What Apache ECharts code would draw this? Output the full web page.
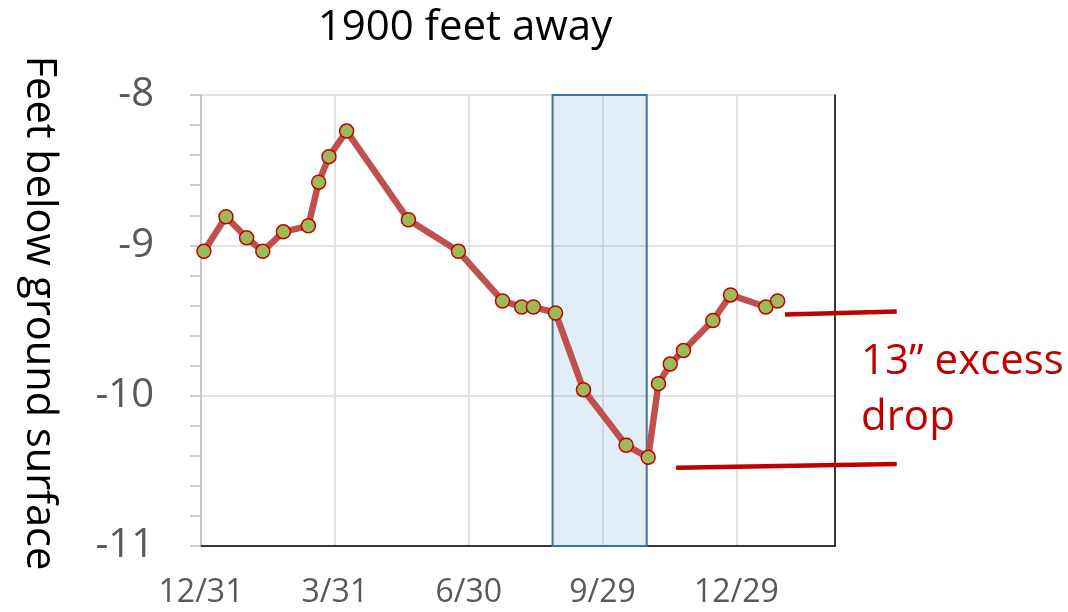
<!DOCTYPE html>
<html>
<head>
<meta charset="utf-8">
<script src="https://cdn.jsdelivr.net/npm/echarts@6/dist/echarts.min.js"></script>
<style>
html,body{margin:0;padding:0;background:#fff;}
#chart{width:1068px;height:612px;}
</style>
</head>
<body>
<div id="chart"></div>
<script>
// Days since 12/31 (x) and depth in feet (y)
var dayOffsets = [2, 17, 31, 42, 56, 73, 80, 87, 99, 141, 175, 205, 218, 226, 241, 260, 289, 304, 311, 319, 328, 348, 360, 384, 392];
var depths = [-9.04, -8.81, -8.95, -9.04, -8.91, -8.87, -8.58, -8.41, -8.24, -8.83, -9.04, -9.37, -9.41, -9.41, -9.45, -9.96, -10.33, -10.41, -9.92, -9.79, -9.70, -9.50, -9.33, -9.41, -9.37];
var xTickLabels = ['12/31', '3/31', '6/30', '9/29', '12/29'];
var xTickStep = 91;
var yTicks = [-11, -10, -9, -8];
var shadedPeriod = [239, 303];
var excessTop = [[397, -9.46], [473, -9.44]];
var excessBottom = [[323, -10.48], [473, -10.455]];
var titleText = '1900 feet away';
var yAxisTitle = 'Feet below ground surface';
var noteLines = ['13\u201d excess', 'drop'];

var seriesData = dayOffsets.map(function (d, i) { return [d, depths[i]]; });
var FONT = '"Open Sans", "Noto Sans", sans-serif';

var chart = echarts.init(document.getElementById('chart'), null, {renderer: 'canvas'});
var option = {
  animation: false,
  backgroundColor: '#ffffff',
  grid: {left: 201, right: 233, top: 95, bottom: 66, containLabel: false, outerBoundsMode: 'none'},
  xAxis: {
    type: 'value',
    min: 0,
    max: 431,
    interval: xTickStep,
    axisLine: {show: true, onZero: false, lineStyle: {color: '#000000', width: 1.5}},
    axisTick: {show: false},
    splitLine: {show: true, lineStyle: {color: '#d9d9d9', width: 1.5}},
    axisLabel: {
      margin: 31,
      color: '#595959',
      fontFamily: FONT,
      fontSize: 32,
      showMaxLabel: false,
      formatter: function (v) {
        var i = v / xTickStep;
        if (Math.abs(i - Math.round(i)) < 1e-6 && Math.round(i) < xTickLabels.length) return xTickLabels[Math.round(i)];
        return '';
      }
    }
  },
  yAxis: [{
    type: 'value',
    min: yTicks[0],
    max: yTicks[yTicks.length - 1],
    interval: 1,
    axisLine: {show: true, lineStyle: {color: '#bfbfbf', width: 1.5}},
    axisTick: {show: true, length: 11, lineStyle: {color: '#bfbfbf', width: 1.5}},
    minorTick: {show: true, splitNumber: 5, length: 11, lineStyle: {color: '#bfbfbf', width: 1.5}},
    splitLine: {show: true, lineStyle: {color: '#d9d9d9', width: 1.5}},
    axisLabel: {margin: 47, color: '#595959', fontFamily: FONT, fontSize: 40}
  }, {
    type: 'value',
    position: 'right',
    min: yTicks[0],
    max: yTicks[yTicks.length - 1],
    interval: 1,
    axisLine: {show: true, lineStyle: {color: '#000000', width: 1.5}},
    axisTick: {show: false},
    axisLabel: {show: false},
    splitLine: {show: false}
  }],
  series: [{
    type: 'line',
    data: seriesData,
    z: 2,
    symbol: 'circle',
    symbolSize: 14,
    lineStyle: {color: '#c0504d', width: 6.5},
    itemStyle: {color: '#9bbb59', borderColor: '#c00000', borderWidth: 1.5}
  }, {
    type: 'line',
    data: [],
    z: 5,
    silent: true,
    markArea: {
      silent: true,
      itemStyle: {color: 'rgba(91,155,213,0.18)', borderColor: '#41719c', borderWidth: 2},
      data: [[{xAxis: shadedPeriod[0], yAxis: yTicks[yTicks.length - 1]}, {xAxis: shadedPeriod[1], yAxis: yTicks[0]}]]
    }
  }]
};
chart.setOption(option);

function px(p) { return chart.convertToPixel({gridIndex: 0}, p); }
var t0 = px(excessTop[0]), t1 = px(excessTop[1]);
var b0 = px(excessBottom[0]), b1 = px(excessBottom[1]);
chart.setOption({
  graphic: [
    {type: 'line', z: 10, shape: {x1: t0[0], y1: t0[1], x2: t1[0], y2: t1[1]}, style: {stroke: '#c00000', lineWidth: 4.5}},
    {type: 'line', z: 10, shape: {x1: b0[0], y1: b0[1], x2: b1[0], y2: b1[1]}, style: {stroke: '#c00000', lineWidth: 4.5}},
    {type: 'text', z: 10, x: 465, y: 28, style: {text: titleText, fill: '#000000', font: '42px ' + FONT, align: 'center', verticalAlign: 'middle'}},
    {type: 'text', z: 10, x: 39, y: 313, rotation: -Math.PI / 2, style: {text: yAxisTitle, fill: '#000000', font: '41.5px ' + FONT, align: 'center', verticalAlign: 'middle'}},
    {type: 'text', z: 10, x: 861, y: 362, style: {text: noteLines[0], fill: '#c00000', font: '42px ' + FONT, align: 'left', verticalAlign: 'middle'}},
    {type: 'text', z: 10, x: 861, y: 418, style: {text: noteLines[1], fill: '#c00000', font: '42px ' + FONT, align: 'left', verticalAlign: 'middle'}}
  ]
});
</script>
</body>
</html>
